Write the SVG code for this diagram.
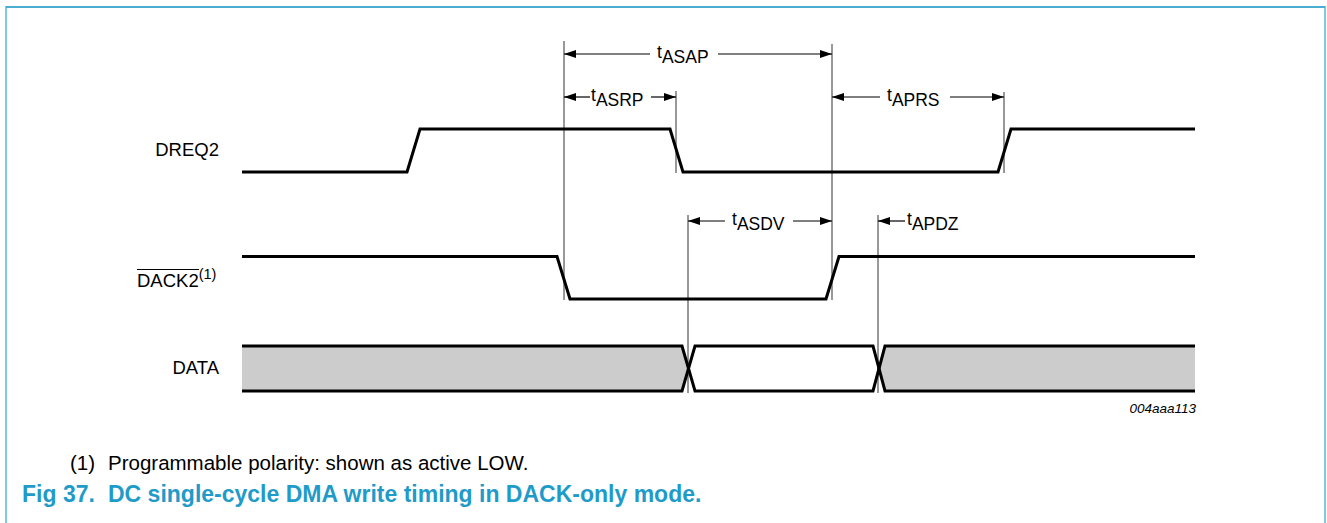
<svg xmlns="http://www.w3.org/2000/svg" width="1327" height="523" viewBox="0 0 1327 523">
<style>
.wave{fill:none;stroke:#000;stroke-width:3;stroke-linejoin:miter}
.guide{fill:none;stroke:#333;stroke-width:1}
.dim{fill:none;stroke:#000;stroke-width:1.2}
.lbl{font-family:"Liberation Sans",Arial,sans-serif;font-size:18.5px;fill:#000}
.tl{font-family:"Liberation Sans",Arial,sans-serif;font-size:17.5px;fill:#000}
.note{font-family:"Liberation Sans",Arial,sans-serif;font-size:20.5px;fill:#000}
.cap{font-family:"Liberation Sans",Arial,sans-serif;font-size:23px;font-weight:bold;fill:#1f9bc9}
.code{font-family:"Liberation Sans",Arial,sans-serif;font-size:13.5px;font-style:italic;fill:#000}
</style>
<defs>
<marker id="ah" viewBox="0 0 12 8" refX="12" refY="4" markerWidth="12" markerHeight="8" markerUnits="userSpaceOnUse" orient="auto">
<path d="M0,0 L12,4 L0,8 Z" fill="#000"/>
</marker>
</defs>
<rect x="0" y="0" width="1327" height="523" fill="#fff"/>
<g id="frame">
<path d="M6,523 V7 H1325 V523" fill="none" stroke="#7fcbe0" stroke-width="2"/>
<path d="M6,7 H1325" fill="none" stroke="#4aaed0" stroke-width="2"/>
</g>
<g id="labels">
<text class="lbl" x="219" y="156" text-anchor="end">DREQ2</text>
<text class="lbl" x="137" y="287">DACK2<tspan font-size="14.5" dy="-8">(1)</tspan></text>
<line x1="137" y1="269.5" x2="199" y2="269.5" stroke="#000" stroke-width="1"/>
<text class="lbl" x="219" y="374" text-anchor="end">DATA</text>
</g>
<g id="guides">
<line class="guide" x1="564" y1="41" x2="564" y2="300"/>
<line class="guide" x1="832" y1="44" x2="832" y2="300"/>
<line class="guide" x1="676" y1="91" x2="676" y2="173"/>
<line class="guide" x1="1004" y1="92" x2="1004" y2="173"/>
<line class="guide" x1="688" y1="215" x2="688" y2="393"/>
<line class="guide" x1="878" y1="215" x2="878" y2="393"/>
</g>
<g id="DREQ2">
<path class="wave" d="M242,172 H407 L420,129 H670 L683,172 H998 L1011,129 H1195"/>
</g>
<g id="DACK2">
<path class="wave" d="M242,256.5 H557 L570,299 H826 L839,256.5 H1195"/>
</g>
<g id="DATA">
<path d="M242,346 H682 L688,368.5 L682,391 H242 Z" fill="#cccccc"/>
<path d="M885,346 H1195 V391 H885 L879,368.5 Z" fill="#cccccc"/>
<path class="wave" d="M242,346 H682 L695,391 H873 L885,346 H1195"/>
<path class="wave" d="M242,391 H682 L695,346 H873 L885,391 H1195"/>
</g>
<g id="connectors">
<line class="dim" x1="650" y1="54" x2="564" y2="54" marker-end="url(#ah)"/>
<line class="dim" x1="718" y1="54" x2="832" y2="54" marker-end="url(#ah)"/>
<line class="dim" x1="590" y1="97" x2="564" y2="97" marker-end="url(#ah)"/>
<line class="dim" x1="651" y1="97" x2="676" y2="97" marker-end="url(#ah)"/>
<line class="dim" x1="880" y1="97" x2="832" y2="97" marker-end="url(#ah)"/>
<line class="dim" x1="950" y1="97" x2="1004" y2="97" marker-end="url(#ah)"/>
<line class="dim" x1="725" y1="221" x2="688" y2="221" marker-end="url(#ah)"/>
<line class="dim" x1="793" y1="221" x2="832" y2="221" marker-end="url(#ah)"/>
<line class="dim" x1="905" y1="221" x2="878" y2="221" marker-end="url(#ah)"/>
</g>
<g id="timing-labels">
<text class="tl" x="657" y="58">t<tspan dy="5">ASAP</tspan></text>
<text class="tl" x="591" y="101">t<tspan dy="5">ASRP</tspan></text>
<text class="tl" x="887" y="101">t<tspan dy="5">APRS</tspan></text>
<text class="tl" x="732" y="225">t<tspan dy="5">ASDV</tspan></text>
<text class="tl" x="907" y="225">t<tspan dy="5">APDZ</tspan></text>
</g>
<text class="code" x="1196" y="413" text-anchor="end">004aaa113</text>
<g id="footnote">
<text class="note" x="70" y="470">(1)</text>
<text class="note" x="108" y="470">Programmable polarity: shown as active LOW.</text>
</g>
<g id="caption">
<text class="cap" x="22" y="502">Fig 37.</text>
<text class="cap" x="108" y="502">DC single-cycle DMA write timing in DACK-only mode.</text>
</g>
</svg>
